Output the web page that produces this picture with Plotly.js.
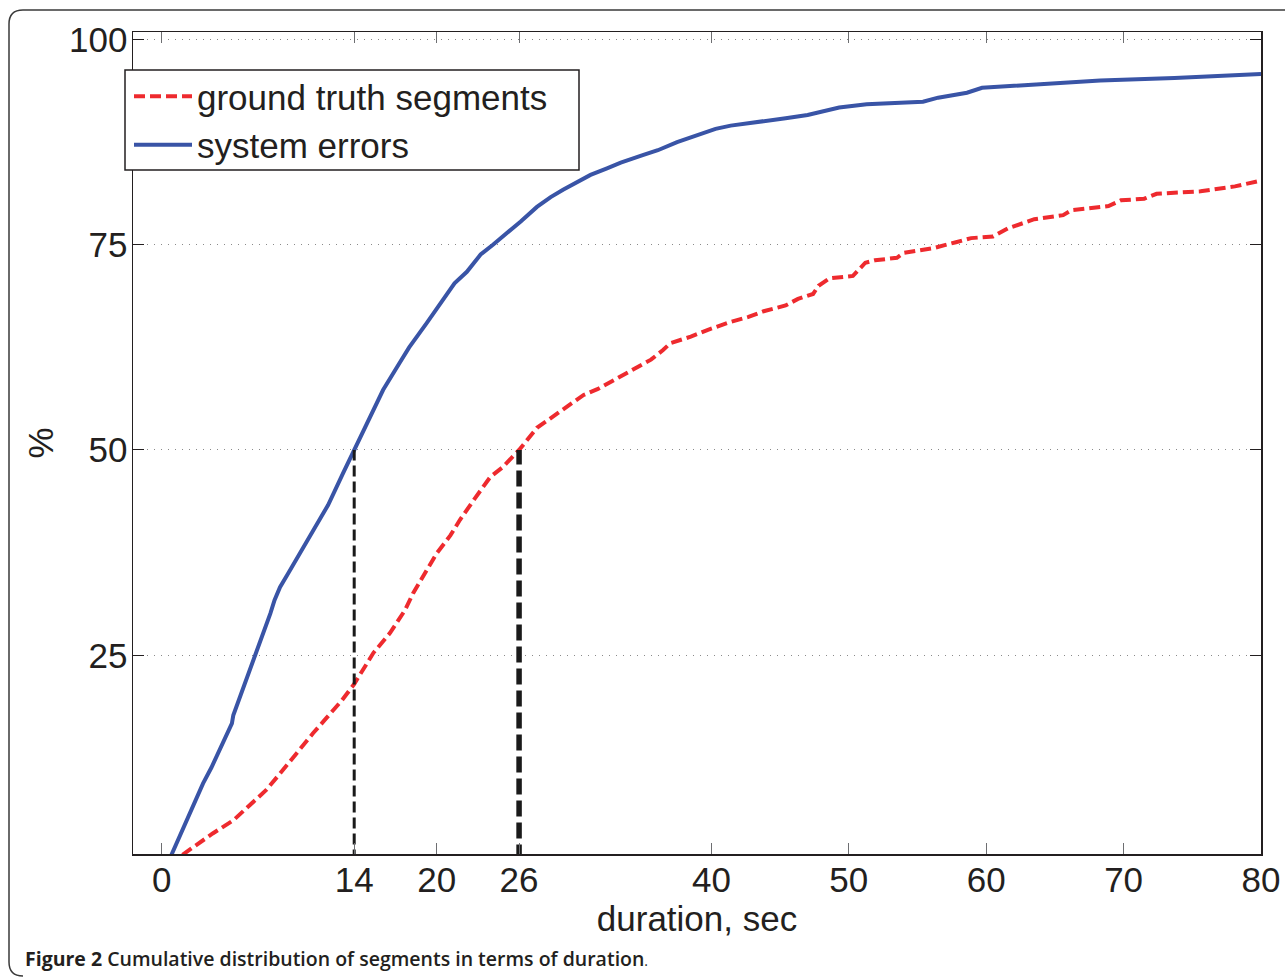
<!DOCTYPE html>
<html>
<head>
<meta charset="utf-8">
<script src="https://cdn.plot.ly/plotly-3.0.1.min.js"></script>
<style>
  html, body { margin: 0; padding: 0; background: #ffffff; }
  #chart { width: 1285px; height: 977px; }
</style>
</head>
<body>
<div id="chart"></div>
<script>
// ---- data ----
const sysX = [0.7,1.3,2.2,3.0,3.6,4.4,5.1,5.2,5.8,6.2,6.6,7.1,7.9,8.2,8.6,9.2,10.2,11.1,12.1,13.2,14.0,15.15,16.1,17.3,18.0,19.3,20.3,21.3,22.2,23.2,24.1,25.4,26.1,27.3,28.3,29.2,30.2,31.2,32.4,33.4,35.0,36.1,37.5,39.2,40.3,41.4,43.8,45.4,47.0,48.1,49.3,51.3,55.4,56.5,58.6,59.7,61.6,64.8,68.3,73.7,77.0,80];
const sysY = [0.7,2.9,6.2,9.4,11.3,14.3,16.7,17.7,20.4,22.2,24.0,26.5,30.1,31.7,33.3,35.0,37.8,40.3,43.3,47.2,50,54.0,57.3,60.6,62.5,65.5,67.9,70.3,71.7,73.8,75.0,76.8,77.8,79.6,80.8,81.7,82.6,83.5,84.3,85.0,85.9,86.5,87.5,88.4,89.1,89.5,90.0,90.4,90.8,91.2,91.7,92.1,92.4,92.9,93.5,94.1,94.3,94.7,95.0,95.3,95.6,95.8];

const gtX = [1.5,2.5,3.7,5.2,6.4,7.6,8.6,9.8,11.0,12.0,13.1,14.0,15.4,16.6,17.7,18.3,19.3,20.0,21.0,21.7,22.7,23.9,24.8,26.0,27.3,28.8,30.7,31.7,32.9,34.1,35.6,36.5,37.0,38.5,39.7,41.4,42.7,43.8,45.4,46.3,47.4,47.8,48.6,50.3,51.2,51.9,53.5,54.0,56.2,57.8,58.9,60.5,61.6,63.5,65.6,66.2,68.9,69.8,71.5,72.4,75.6,78.1,80];
const gtY = [0.7,1.9,3.3,4.9,6.8,8.6,10.6,13.1,15.5,17.4,19.5,21.5,25.3,27.7,30.5,32.6,35.4,37.4,39.6,41.5,43.9,46.7,47.9,50,52.7,54.5,56.7,57.4,58.5,59.7,61.0,62.2,63.0,63.8,64.6,65.6,66.2,66.9,67.6,68.4,69.0,70.0,70.9,71.2,72.8,73.1,73.4,74.0,74.6,75.3,75.8,76.0,77.0,78.1,78.6,79.2,79.7,80.4,80.6,81.2,81.5,82.1,82.8];

// medians (50% points) marked with vertical dashed lines
const medianSys = 14;
const medianGt = 26;
const medianLevel = 50;

const xTicks = [0, 14, 20, 26, 40, 50, 60, 70, 80];
const yTicks = [25, 50, 75, 100];

const seriesNames = ['ground truth segments', 'system errors'];
const xTitle = 'duration, sec';
const yTitle = '%';
const caption = '<b>Figure 2</b> Cumulative distribution of segments in terms of duration<span style="font-size:14px;font-weight:400">.</span>';

// ---- chart ----
const tickFont = { family: 'Liberation Sans, Arial, sans-serif', size: 35, color: '#231f20' };

const traces = [
  { x: gtX, y: gtY, mode: 'lines', name: seriesNames[0],
    line: { color: '#ee2a2e', width: 4, dash: '11px,5px' } },
  { x: sysX, y: sysY, mode: 'lines', name: seriesNames[1],
    line: { color: '#3954a6', width: 4 } },
  { x: [medianSys, medianSys], y: [0, medianLevel], mode: 'lines', showlegend: false,
    hoverinfo: 'skip', line: { color: '#1a1a1a', width: 3, dash: '11px,5px' } },
  { x: [medianGt, medianGt], y: [0, medianLevel], mode: 'lines', showlegend: false,
    hoverinfo: 'skip', line: { color: '#1a1a1a', width: 5.5, dash: '16px,6px' } }
];

// plot area in pixels: left 133, right 1261, top 32, bottom 854
const PL = 133, PR = 1261, PT = 32, PB = 854;
const W = PR - PL, H = PB - PT;
const px = v => (v - PL) / W;
const py = v => (PB - v) / H;
const fx0 = px(9), fy0 = py(10), fy1 = py(976), fx1 = px(1300);
const rx = 14 / W, ry = 14 / H;
const framePath = `M ${fx1} ${fy0} L ${fx0 + rx} ${fy0} Q ${fx0} ${fy0} ${fx0} ${fy0 - ry} ` +
                  `L ${fx0} ${fy1 + ry} Q ${fx0} ${fy1} ${fx0 + rx} ${fy1}`;

const layout = {
  width: 1285, height: 977,
  margin: { l: PL, r: 1285 - PR, t: PT, b: 977 - PB },
  paper_bgcolor: '#ffffff', plot_bgcolor: '#ffffff',
  showlegend: true,
  legend: {
    x: px(129), y: py(67), xanchor: 'left', yanchor: 'top',
    bgcolor: 'rgba(0,0,0,0)', borderwidth: 0,
    font: { family: 'Liberation Sans, Arial, sans-serif', size: 35, color: '#231f20' },
    itemwidth: 58, tracegroupgap: 0
  },
  xaxis: {
    range: [-2.1, 80], tickvals: xTicks, ticktext: xTicks.map(String),
    ticks: 'inside', ticklen: 11, tickwidth: 1, tickcolor: '#6d6e71',
    showline: true, linecolor: '#231f20', linewidth: 1.5, mirror: 'ticks',
    showgrid: false, zeroline: false, tickfont: tickFont, ticklabelstandoff: -6,
    title: { text: xTitle, font: tickFont, standoff: 0 }, automargin: false
  },
  yaxis: {
    range: [0.8, 100.9], tickvals: yTicks, ticktext: yTicks.map(String),
    ticks: 'inside', ticklen: 11, tickwidth: 1, tickcolor: '#231f20',
    showline: true, linecolor: '#231f20', linewidth: 1.5, mirror: 'ticks',
    showgrid: true, gridcolor: '#8a8a8a', gridwidth: 1, griddash: '1px,6px',
    zeroline: false, tickfont: tickFont, ticklabelstandoff: -3,
    title: { text: yTitle, font: tickFont, standoff: 5 }, automargin: false
  },
  shapes: [
    { type: 'path', xref: 'paper', yref: 'paper', path: framePath,
      line: { color: '#3a3a3a', width: 1.5 }, layer: 'above' },
    { type: 'rect', xref: 'paper', yref: 'paper', x0: px(125), x1: px(579), y0: py(70), y1: py(170),
      fillcolor: '#ffffff', line: { color: '#231f20', width: 1.5 }, layer: 'above' }
  ],
  annotations: [
    { xref: 'paper', yref: 'paper', x: px(23), y: py(959), xanchor: 'left', yanchor: 'middle',
      showarrow: false, text: caption,
      font: { family: 'Open Sans, Noto Sans, sans-serif', size: 19.5, color: '#231f20', weight: 600 } }
  ]
};

Plotly.newPlot('chart', traces, layout, { displayModeBar: false, staticPlot: true });
</script>
</body>
</html>
